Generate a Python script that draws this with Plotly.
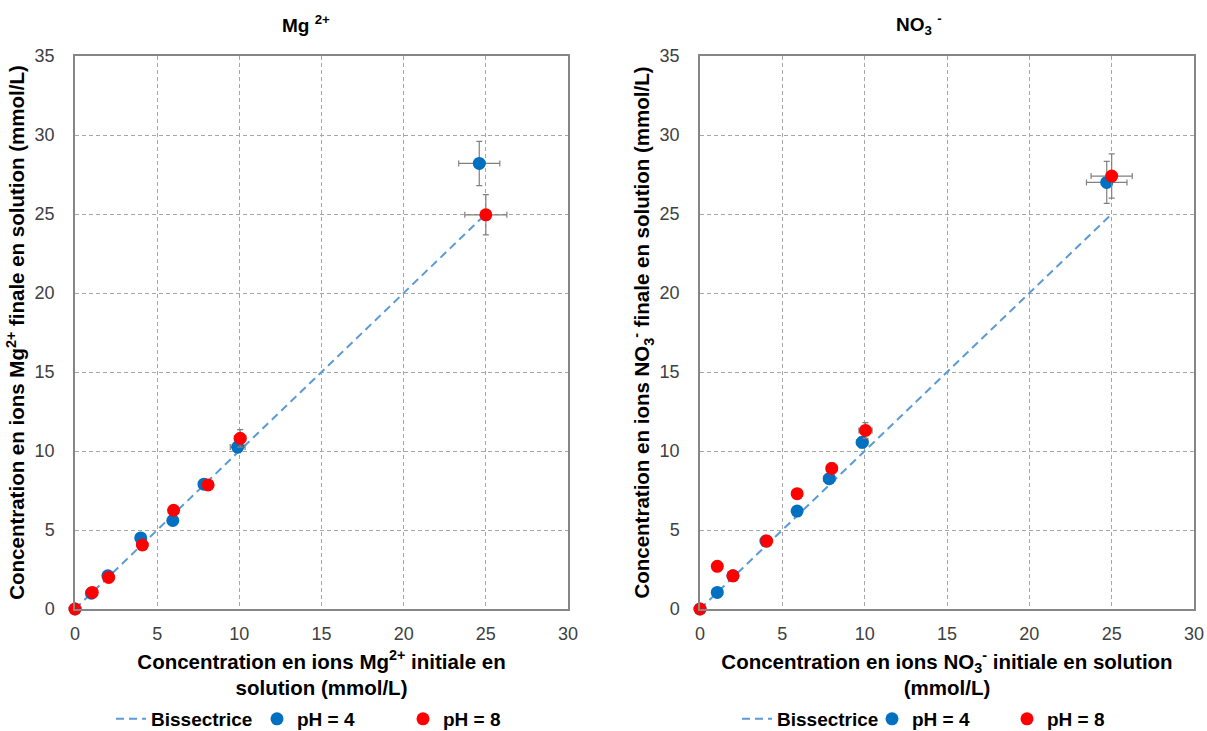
import plotly.graph_objects as go

# ---------------- data ----------------
bis_x = [0, 25]
bis_y = [0, 25]

# Mg2+ panel
mg_ph4_x = [0, 1, 2, 4, 5.95, 7.85, 9.9, 24.6]
mg_ph4_y = [0, 1.0, 2.1, 4.5, 5.6, 7.9, 10.25, 28.2]
mg_ph4_ex = [0, 0.1, 0.1, 0.15, 0.15, 0.3, 0.45, 1.25]
mg_ph4_ey = [0, 0.1, 0.1, 0.15, 0.15, 0.3, 0.35, 1.4]
mg_ph8_x = [0, 1.05, 2.05, 4.1, 6.0, 8.1, 10.05, 25.0]
mg_ph8_y = [0, 1.05, 2.0, 4.05, 6.25, 7.85, 10.8, 24.95]
mg_ph8_ex = [0, 0.1, 0.1, 0.15, 0.15, 0.3, 0.35, 1.28]
mg_ph8_ey = [0, 0.1, 0.1, 0.15, 0.15, 0.3, 0.55, 1.27]

# NO3- panel
no3_ph4_x = [0, 1.05, 2.0, 4.0, 5.9, 7.85, 9.85, 24.7]
no3_ph4_y = [0, 1.05, 2.1, 4.3, 6.2, 8.25, 10.55, 27.0]
no3_ph4_ex = [0, 0.1, 0.1, 0.15, 0.15, 0.35, 0.35, 1.23]
no3_ph4_ey = [0, 0.1, 0.1, 0.15, 0.15, 0.3, 0.35, 1.33]
no3_ph8_x = [0, 1.05, 2.0, 4.05, 5.9, 8.0, 10.05, 25.0]
no3_ph8_y = [0, 2.7, 2.1, 4.3, 7.3, 8.9, 11.3, 27.4]
no3_ph8_ex = [0, 0.1, 0.1, 0.15, 0.15, 0.3, 0.4, 1.25]
no3_ph8_ey = [0, 0.1, 0.1, 0.15, 0.2, 0.36, 0.5, 1.4]

x_ticks = [0, 5, 10, 15, 20, 25, 30]
y_ticks = [0, 5, 10, 15, 20, 25, 30, 35]

BLUE = "#0070c0"
RED = "#ff0000"
LINE = "#5b9bd5"
ERR = "#808080"
FONT = "Liberation Sans, Arial, sans-serif"

fig = go.Figure()


def add_panel(xaxis, yaxis, legend, p4x, p4y, p4ex, p4ey, p8x, p8y, p8ex, p8ey):
    fig.add_trace(go.Scatter(x=bis_x, y=bis_y, mode="lines", name="<b>Bissectrice</b>",
                             line=dict(color=LINE, dash="8px,5px", width=2),
                             xaxis=xaxis, yaxis=yaxis, legend=legend))
    fig.add_trace(go.Scatter(x=p4x, y=p4y, mode="markers", name="<b>pH = 4</b>",
                             marker=dict(color=BLUE, size=13), cliponaxis=False,
                             error_x=dict(type="data", array=p4ex, color=ERR, thickness=1.2, width=3),
                             error_y=dict(type="data", array=p4ey, color=ERR, thickness=1.2, width=3),
                             xaxis=xaxis, yaxis=yaxis, legend=legend))
    fig.add_trace(go.Scatter(x=p8x, y=p8y, mode="markers", name="<b>pH = 8</b>",
                             marker=dict(color=RED, size=13), cliponaxis=False,
                             error_x=dict(type="data", array=p8ex, color=ERR, thickness=1.2, width=3),
                             error_y=dict(type="data", array=p8ey, color=ERR, thickness=1.2, width=3),
                             xaxis=xaxis, yaxis=yaxis, legend=legend))


add_panel("x", "y", "legend", mg_ph4_x, mg_ph4_y, mg_ph4_ex, mg_ph4_ey,
          mg_ph8_x, mg_ph8_y, mg_ph8_ex, mg_ph8_ey)
add_panel("x2", "y2", "legend2", no3_ph4_x, no3_ph4_y, no3_ph4_ex, no3_ph4_ey,
          no3_ph8_x, no3_ph8_y, no3_ph8_ex, no3_ph8_ey)

W, H = 1207, 731
L, R, T, B = 75, 1194, 56, 609  # plotting region in pixels
PW, PH = R - L, B - T


def fx(p):
    return (p - L) / PW


def fy(p):
    return (B - p) / PH


axis_common = dict(
    showgrid=True, gridcolor="#a6a6a6", griddash="4px,3px", gridwidth=1,
    showline=True, linecolor="#868686", linewidth=1.5, mirror=True,
    zeroline=False, ticks="", automargin=False,
    tickfont=dict(size=18, color="#404040", family=FONT),
)

TITLE_FONT = dict(size=20.5, color="black", family=FONT)
LEG_FONT = dict(size=19, color="black", family=FONT)

fig.update_layout(
    width=W, height=H,
    margin=dict(l=L, r=W - R, t=T, b=H - B, autoexpand=False),
    paper_bgcolor="white", plot_bgcolor="white",
    font=dict(family=FONT, color="black"),
    xaxis=dict(domain=[0, fx(568)], range=[0, 30], anchor="y", tickvals=x_ticks,
               ticklabelstandoff=8,
               title=dict(text="<b>Concentration en ions Mg<sup>2+</sup> initiale en<br>solution (mmol/L)</b>",
                          font=TITLE_FONT, standoff=11),
               **axis_common),
    yaxis=dict(domain=[0, 1], range=[0, 35], anchor="x", tickvals=y_ticks,
               ticklabelstandoff=15,
               title=dict(text="<b>Concentration en ions Mg<sup>2+</sup> finale en solution (mmol/L)</b>",
                          font=TITLE_FONT, standoff=4),
               **axis_common),
    xaxis2=dict(domain=[fx(700), 1], range=[0, 30], anchor="y2", tickvals=x_ticks,
                ticklabelstandoff=8,
                title=dict(text="<b>Concentration en ions NO<sub>3</sub><sup>-</sup> initiale en solution<br>(mmol/L)</b>",
                           font=TITLE_FONT, standoff=11),
                **axis_common),
    yaxis2=dict(domain=[0, 1], range=[0, 35], anchor="x2", tickvals=y_ticks,
                ticklabelstandoff=15,
                title=dict(text="<b>Concentration en ions NO<sub>3</sub><sup>-</sup> finale en solution (mmol/L)</b>",
                           font=TITLE_FONT, standoff=4),
                **axis_common),
    legend=dict(orientation="h", x=fx(111), y=fy(719), xanchor="left", yanchor="middle",
                font=LEG_FONT, bgcolor="rgba(0,0,0,0)", itemwidth=30, entrywidth=101),
    legend2=dict(orientation="h", x=fx(737), y=fy(719), xanchor="left", yanchor="middle",
                 font=LEG_FONT, bgcolor="rgba(0,0,0,0)", itemwidth=30, entrywidth=90),
    annotations=[
        dict(text="<b>Mg <sup>2+</sup></b>", x=fx(306), y=fy(24), xref="paper", yref="paper",
             xanchor="center", yanchor="middle",
             showarrow=False, font=dict(size=19, color="black", family=FONT)),
        dict(text="<b>NO<sub>3</sub> <sup>-</sup></b>", x=fx(919), y=fy(24), xref="paper", yref="paper",
             xanchor="center", yanchor="middle",
             showarrow=False, font=dict(size=19, color="black", family=FONT)),
    ],
)

fig.write_html("out.html",
               config={"displayModeBar": False},
               post_script="document.body.style.margin='0';document.body.style.overflow='hidden';")
